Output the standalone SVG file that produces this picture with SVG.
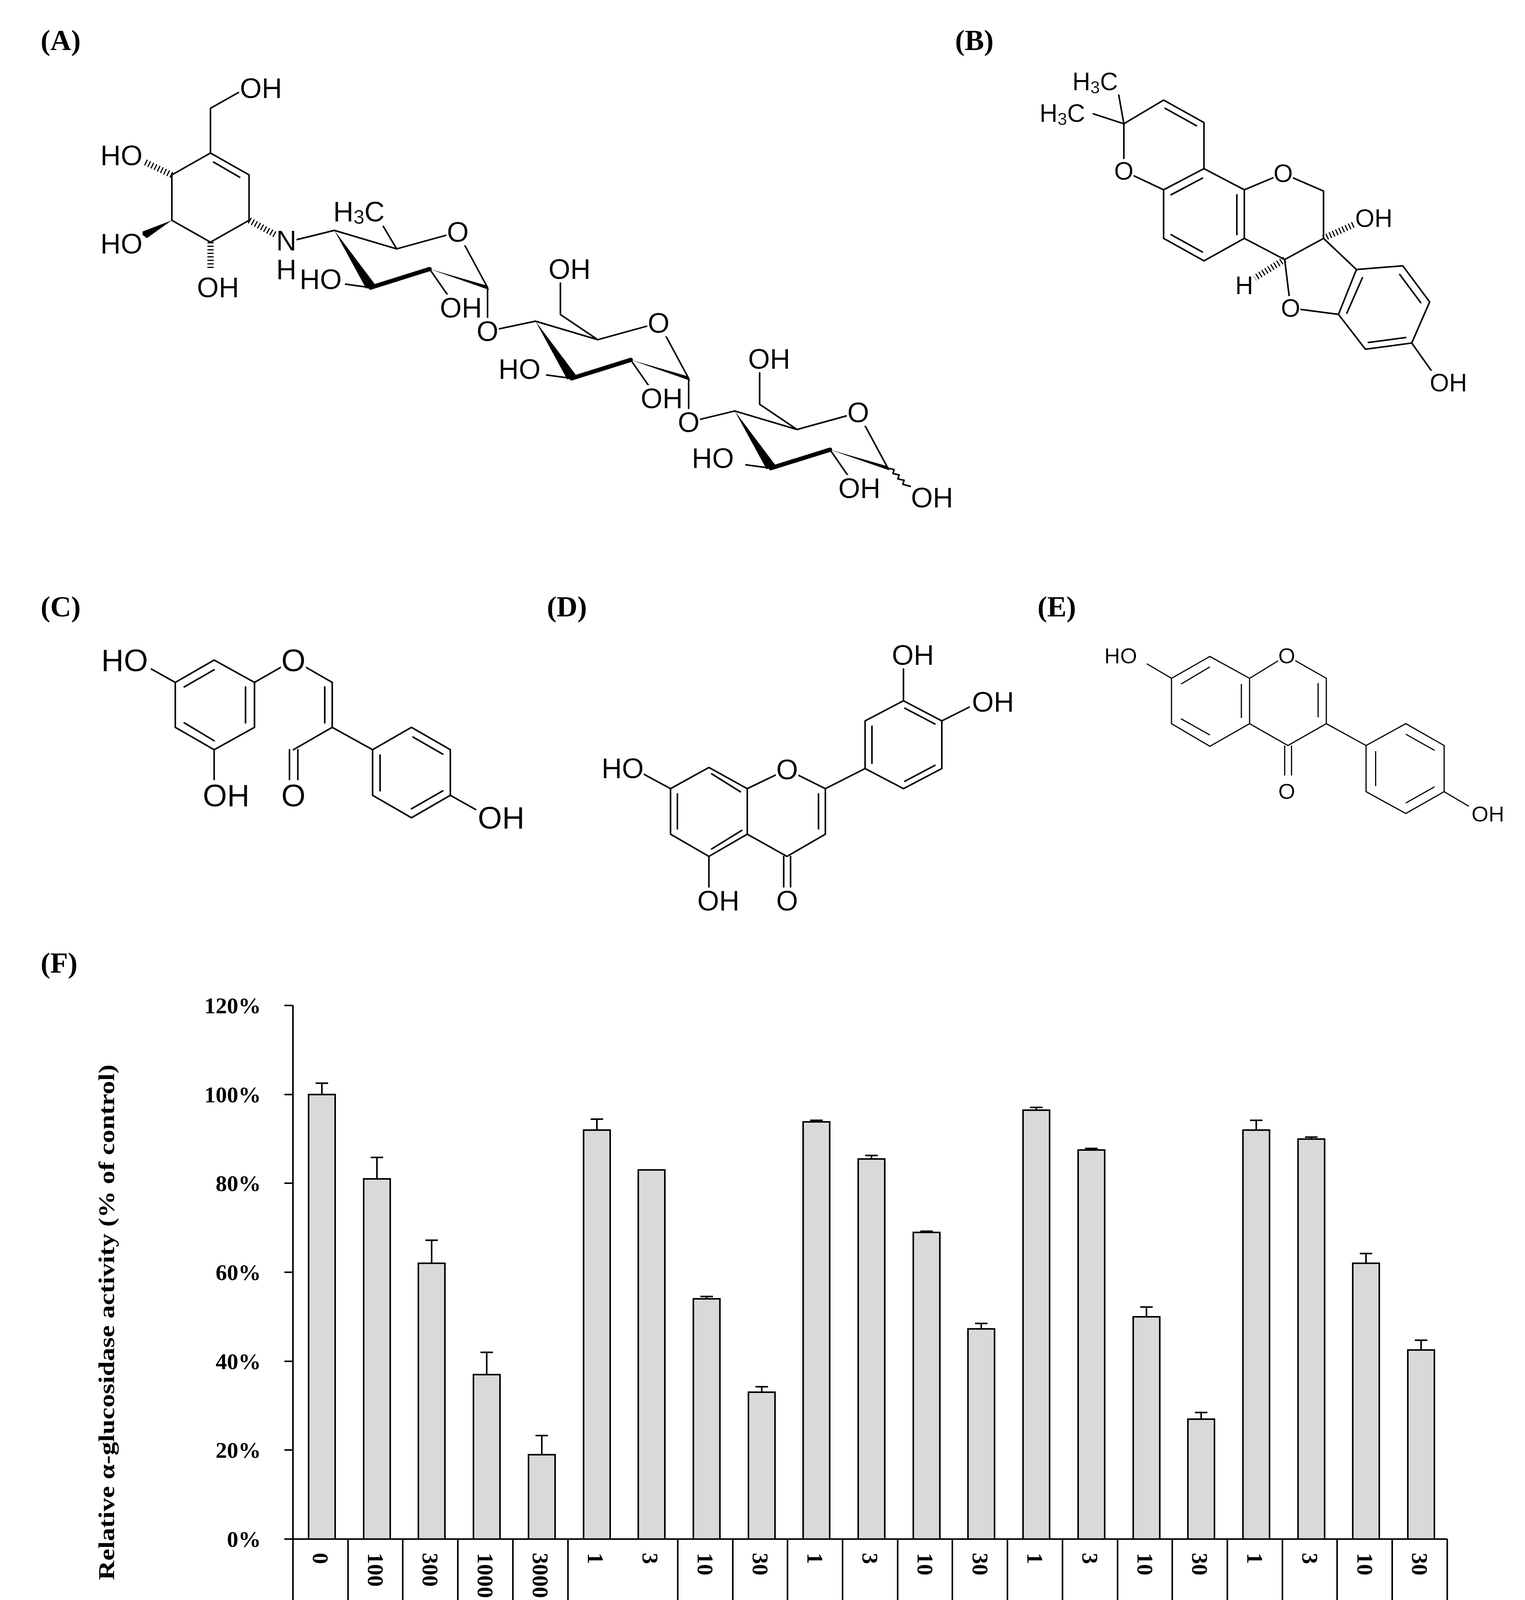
<svg xmlns="http://www.w3.org/2000/svg" width="3904" height="4406" viewBox="0 0 3904 4406">
<style>
.b{stroke:#000;stroke-width:4;fill:none;vector-effect:non-scaling-stroke;stroke-linecap:round;stroke-linejoin:round}
.e{stroke:#000;stroke-width:3;fill:none;vector-effect:non-scaling-stroke}
.hash{stroke:#000;stroke-width:16;stroke-dasharray:3 6;fill:none}
.w{fill:#000;stroke:none}
.t{font-family:"Liberation Sans",Arial,sans-serif;fill:#000;text-anchor:middle;dominant-baseline:central;filter:url(#bg)}
.ts{text-anchor:start}
.pl{font-family:"Liberation Serif","Times New Roman",serif;font-weight:bold;font-size:74px;fill:#000}
.ax{font-family:"Liberation Serif","Times New Roman",serif;font-weight:bold;font-size:58px;fill:#000}
.bar{fill:#d9d9d9;stroke:#000;stroke-width:4}
.ln{stroke:#000;stroke-width:4;fill:none}
</style>
<defs>
<filter id="bg" x="0" y="0.08" width="1" height="0.84"><feFlood flood-color="#fff"/><feComposite in="SourceGraphic" operator="over"/></filter>
<g id="sugar">
<polygon class="w" points="537,685 588,858 604,850"/>
<line class="b" x1="595" y1="855" x2="690" y2="800" style="stroke-width:11"/>
<polygon class="w" points="690,800 780,848 786,862"/>
<polyline class="b" points="537,685 637,740 735,690 783,855"/>
<line class="b" x1="690" y1="800" x2="720" y2="880"/>
<line class="b" x1="595" y1="855" x2="555" y2="845"/>
</g>
</defs>
<rect width="3904" height="4406" fill="#fff"/>

<g id="labels">
<text class="pl" x="104" y="128">(A)</text>
<text class="pl" x="2445" y="128">(B)</text>
<text class="pl" x="104" y="1578">(C)</text>
<text class="pl" x="1400" y="1578">(D)</text>
<text class="pl" x="2656" y="1578">(E)</text>
<text class="pl" x="104" y="2490">(F)</text>
</g>

<g id="struct-A">
<g transform="scale(1.594,0.861)">
<polyline class="b" points="383,275 338,322 338,455"/>
<polygon class="b" points="338,455 400,520 400,655 338,720 276,655 276,520"/>
<line class="b" x1="343" y1="482" x2="385" y2="527"/>
<polygon class="w" points="276,655 224,692 236,708"/>
<line class="b" x1="460" y1="720" x2="537" y2="685"/>
<line class="b" x1="637" y1="740" x2="605" y2="640"/>
<line class="b" x1="783" y1="855" x2="783" y2="985"/>
<use href="#sugar"/>
<line class="b" x1="783" y1="985" x2="860" y2="955"/>
<polyline class="b" points="960,1010 900,935 900,830"/>
<line class="b" x1="1106" y1="1125" x2="1106" y2="1255"/>
<use href="#sugar" transform="translate(323,270)"/>
<line class="b" x1="1106" y1="1255" x2="1180" y2="1222"/>
<polyline class="b" points="1280,1277 1220,1202 1220,1100"/>
<use href="#sugar" transform="translate(643,537)"/>
<polyline class="b" points="1426,1392 1436,1396 1434,1408 1444,1412 1442,1424 1452,1428 1450,1440 1462,1446"/>
</g>
<line class="hash" x1="440" y1="448" x2="367" y2="413"/>
<line class="hash" x1="539" y1="620" x2="539" y2="689"/>
<line class="hash" x1="638" y1="564" x2="709" y2="603"/>
<g font-size="72">
<text class="t ts" x="614" y="226">OH</text>
<text class="t" x="311" y="398">HO</text>
<text class="t" x="311" y="624">HO</text>
<text class="t" x="558" y="736">OH</text>
<text class="t" x="733" y="616">N</text>
<text class="t" x="733" y="690">H</text>
<text class="t ts" x="853" y="542">H<tspan font-size="50" dy="14">3</tspan><tspan dy="-14">C</tspan></text>
<text class="t" x="1172" y="594">O</text>
<text class="t" x="821" y="715">HO</text>
<text class="t" x="1180" y="788">OH</text>
<text class="t" x="1248" y="848">O</text>
<text class="t" x="1458" y="689">OH</text>
<text class="t" x="1686" y="827">O</text>
<text class="t" x="1330" y="945">HO</text>
<text class="t" x="1694" y="1020">OH</text>
<text class="t" x="1763" y="1081">O</text>
<text class="t" x="1969" y="919">OH</text>
<text class="t" x="2197" y="1056">O</text>
<text class="t" x="1825" y="1173">HO</text>
<text class="t" x="2200" y="1250">OH</text>
<text class="t" x="2386" y="1274">OH</text>
</g>
</g>

<g id="struct-B">
<g transform="translate(2600,100) scale(0.7653,0.6378)">
<line class="b" x1="362" y1="340" x2="345" y2="225"/>
<line class="b" x1="362" y1="340" x2="260" y2="300"/>
<polyline class="b" points="362,530 362,340 495,245 630,335 630,520"/>
<line class="b" x1="500" y1="278" x2="605" y2="348"/>
<polygon class="b" points="495,605 630,520 765,605 765,800 630,890 495,800"/>
<line class="b" x1="362" y1="530" x2="495" y2="605"/>
<line class="b" x1="520" y1="625" x2="625" y2="558"/>
<line class="b" x1="740" y1="625" x2="740" y2="785"/>
<line class="b" x1="520" y1="785" x2="625" y2="855"/>
<polyline class="b" points="765,605 895,540 1030,610 1030,800 900,885 765,800"/>
<polyline class="b" points="900,885 920,1080 1080,1105"/>
<line class="b" x1="1030" y1="800" x2="1140" y2="925"/>
<polygon class="b" points="1140,925 1295,910 1385,1055 1325,1220 1170,1245 1080,1105"/>
<line class="b" x1="1160" y1="958" x2="1108" y2="1100"/>
<line class="b" x1="1285" y1="945" x2="1355" y2="1058"/>
<line class="b" x1="1305" y1="1198" x2="1180" y2="1218"/>
<line class="b" x1="1325" y1="1220" x2="1390" y2="1330"/>
</g>
<line class="hash" x1="3388" y1="610" x2="3465" y2="575"/>
<line class="hash" x1="3289" y1="664" x2="3212" y2="712"/>
<g font-size="64">
<text class="t ts" x="2745" y="209">H<tspan font-size="44" dy="14">3</tspan><tspan dy="-14">C</tspan></text>
<text class="t ts" x="2661" y="290">H<tspan font-size="44" dy="14">3</tspan><tspan dy="-14">C</tspan></text>
<text class="t" x="2877" y="438">O</text>
<text class="t" x="3285" y="444">O</text>
<text class="t ts" x="3469" y="559">OH</text>
<text class="t" x="3185" y="731">H</text>
<text class="t" x="3304" y="789">O</text>
<text class="t ts" x="3660" y="980">OH</text>
</g>
</g>

<g id="struct-C">
<g transform="translate(200,1550) scale(0.7653,0.3827)">
<polygon class="b" points="325,515 455,365 590,515 590,815 455,965 325,815"/>
<line class="b" x1="355" y1="545" x2="455" y2="430"/>
<line class="b" x1="355" y1="785" x2="455" y2="905"/>
<line class="b" x1="560" y1="545" x2="560" y2="785"/>
<line class="b" x1="325" y1="515" x2="245" y2="425"/>
<polyline class="b" points="590,515 720,365 850,515 850,815 720,965"/>
<line class="b" x1="825" y1="545" x2="825" y2="785"/>
<line class="b" x1="707" y1="965" x2="707" y2="1165"/>
<line class="b" x1="735" y1="965" x2="735" y2="1165"/>
<line class="b" x1="455" y1="965" x2="455" y2="1165"/>
<line class="b" x1="850" y1="815" x2="985" y2="965"/>
<polygon class="b" points="985,965 1115,815 1245,965 1245,1270 1115,1420 985,1270"/>
<line class="b" x1="1120" y1="880" x2="1220" y2="995"/>
<line class="b" x1="1010" y1="1000" x2="1010" y2="1240"/>
<line class="b" x1="1220" y1="1240" x2="1115" y2="1360"/>
<line class="b" x1="1245" y1="1270" x2="1330" y2="1365"/>
</g>
<g font-size="80">
<text class="t" x="319" y="1690">HO</text>
<text class="t" x="751" y="1690">O</text>
<text class="t" x="579" y="2036">OH</text>
<text class="t" x="751" y="2036">O</text>
<text class="t" x="1283" y="2093">OH</text>
</g>
</g>

<g id="struct-D">
<g transform="translate(1450,1550) scale(0.7015,0.5421)">
<polygon class="b" points="380,865 520,765 660,865 660,1080 520,1185 380,1080"/>
<line class="b" x1="405" y1="890" x2="405" y2="1055"/>
<line class="b" x1="530" y1="795" x2="635" y2="880"/>
<line class="b" x1="530" y1="1150" x2="640" y2="1062"/>
<line class="b" x1="380" y1="865" x2="280" y2="795"/>
<polyline class="b" points="660,865 805,775 945,865 945,1080 805,1185 660,1080"/>
<line class="b" x1="920" y1="890" x2="920" y2="1055"/>
<line class="b" x1="793" y1="1185" x2="793" y2="1345"/>
<line class="b" x1="818" y1="1185" x2="818" y2="1345"/>
<line class="b" x1="520" y1="1185" x2="520" y2="1340"/>
<line class="b" x1="945" y1="865" x2="1090" y2="770"/>
<polygon class="b" points="1090,770 1090,545 1230,450 1370,545 1370,770 1230,865"/>
<line class="b" x1="1115" y1="570" x2="1115" y2="745"/>
<line class="b" x1="1235" y1="485" x2="1345" y2="560"/>
<line class="b" x1="1345" y1="755" x2="1235" y2="830"/>
<line class="b" x1="1230" y1="450" x2="1230" y2="290"/>
<line class="b" x1="1370" y1="545" x2="1470" y2="480"/>
</g>
<g font-size="72">
<text class="t" x="1594" y="1967">HO</text>
<text class="t" x="2015" y="1970">O</text>
<text class="t" x="1839" y="2306">OH</text>
<text class="t" x="2015" y="2306">O</text>
<text class="t" x="2337" y="1677">OH</text>
<text class="t ts" x="2488" y="1797">OH</text>
</g>
</g>

<g id="struct-E">
<g transform="translate(2750,1550) scale(0.7015,0.4145)">
<polygon class="e" points="355,450 495,315 640,450 640,730 495,870 355,730"/>
<line class="e" x1="390" y1="485" x2="495" y2="380"/>
<line class="e" x1="390" y1="700" x2="495" y2="800"/>
<line class="e" x1="610" y1="485" x2="610" y2="695"/>
<line class="e" x1="355" y1="450" x2="265" y2="360"/>
<polyline class="e" points="640,450 775,310 920,450 920,730 780,865 640,730"/>
<line class="e" x1="890" y1="480" x2="890" y2="690"/>
<line class="e" x1="768" y1="865" x2="768" y2="1050"/>
<line class="e" x1="793" y1="865" x2="793" y2="1050"/>
<line class="e" x1="920" y1="730" x2="1065" y2="865"/>
<polygon class="e" points="1065,865 1210,730 1350,865 1350,1150 1210,1285 1065,1150"/>
<line class="e" x1="1210" y1="795" x2="1315" y2="895"/>
<line class="e" x1="1100" y1="900" x2="1100" y2="1115"/>
<line class="e" x1="1315" y1="1120" x2="1210" y2="1220"/>
<line class="e" x1="1350" y1="1150" x2="1440" y2="1240"/>
</g>
<g font-size="56">
<text class="t" x="2869" y="1678">HO</text>
<text class="t" x="3294" y="1678">O</text>
<text class="t" x="3294" y="2025">O</text>
<text class="t ts" x="3767" y="2083">OH</text>
</g>
</g>

<g id="chart-F">
<g id="bars">
<rect class="bar" x="790" y="2802" width="68" height="1138"/>
<rect class="bar" x="931" y="3018" width="68" height="922"/>
<rect class="bar" x="1071" y="3234" width="68" height="706"/>
<rect class="bar" x="1212" y="3519" width="68" height="421"/>
<rect class="bar" x="1353" y="3724" width="68" height="216"/>
<rect class="bar" x="1494" y="2893" width="68" height="1047"/>
<rect class="bar" x="1634" y="2995" width="68" height="945"/>
<rect class="bar" x="1775" y="3325" width="68" height="615"/>
<rect class="bar" x="1916" y="3564" width="68" height="376"/>
<rect class="bar" x="2056" y="2872" width="68" height="1068"/>
<rect class="bar" x="2197" y="2967" width="68" height="973"/>
<rect class="bar" x="2338" y="3155" width="68" height="785"/>
<rect class="bar" x="2478" y="3402" width="68" height="538"/>
<rect class="bar" x="2619" y="2842" width="68" height="1098"/>
<rect class="bar" x="2760" y="2944" width="68" height="996"/>
<rect class="bar" x="2901" y="3371" width="68" height="569"/>
<rect class="bar" x="3041" y="3633" width="68" height="307"/>
<rect class="bar" x="3182" y="2893" width="68" height="1047"/>
<rect class="bar" x="3323" y="2916" width="68" height="1024"/>
<rect class="bar" x="3463" y="3234" width="68" height="706"/>
<rect class="bar" x="3604" y="3456" width="68" height="484"/>
</g>
<g id="errorbars" class="ln">
<path d="M824 2802V2773M808 2773H840"/>
<path d="M965 3018V2963M949 2963H981"/>
<path d="M1105 3234V3175M1089 3175H1121"/>
<path d="M1246 3519V3462M1230 3462H1262"/>
<path d="M1387 3724V3675M1371 3675H1403"/>
<path d="M1528 2893V2865M1512 2865H1544"/>
<path d="M1809 3325V3319M1793 3319H1825"/>
<path d="M1950 3564V3550M1934 3550H1966"/>
<path d="M2090 2872V2868M2074 2868H2106"/>
<path d="M2231 2967V2958M2215 2958H2247"/>
<path d="M2372 3155V3152M2356 3152H2388"/>
<path d="M2512 3402V3388M2496 3388H2528"/>
<path d="M2653 2842V2835M2637 2835H2669"/>
<path d="M2794 2944V2940M2778 2940H2810"/>
<path d="M2935 3371V3346M2919 3346H2951"/>
<path d="M3075 3633V3616M3059 3616H3091"/>
<path d="M3216 2893V2868M3200 2868H3232"/>
<path d="M3357 2916V2911M3341 2911H3373"/>
<path d="M3497 3234V3209M3481 3209H3513"/>
<path d="M3638 3456V3431M3622 3431H3654"/>
</g>
<g id="axes" class="ln">
<path d="M750 2574V3940H3705"/>
<path d="M728 2574H750M728 2802H750M728 3029H750M728 3257H750M728 3485H750M728 3712H750M728 3940H750"/>
<path d="M891 3940V4123M1031 3940V4123M1172 3940V4123M1313 3940V4123M1735 3940V4123M1876 3940V4123M2157 3940V4123M2298 3940V4123M2438 3940V4123M2720 3940V4123M2861 3940V4123M3001 3940V4123M3283 3940V4123M3423 3940V4123M3564 3940V4123"/>
<path d="M750 3940V4330M1454 3940V4330M2016 3940V4330M2579 3940V4330M3142 3940V4330M3705 3940V4330"/>
</g>
<g class="ax" text-anchor="end">
<text x="668" y="3960">0%</text>
<text x="668" y="3732">20%</text>
<text x="668" y="3505">40%</text>
<text x="668" y="3277">60%</text>
<text x="668" y="3049">80%</text>
<text x="668" y="2822">100%</text>
<text x="668" y="2594">120%</text>
</g>
<text class="ax" text-anchor="middle" transform="translate(292,3385) rotate(-90)" textLength="1320" lengthAdjust="spacingAndGlyphs">Relative α-glucosidase activity (% of control)</text>
<g class="ax">
<text transform="translate(801,3975) rotate(90)">0</text>
<text transform="translate(942,3975) rotate(90)">100</text>
<text transform="translate(1082,3975) rotate(90)">300</text>
<text transform="translate(1223,3975) rotate(90)">1000</text>
<text transform="translate(1364,3975) rotate(90)">3000</text>
<text transform="translate(1505,3975) rotate(90)">1</text>
<text transform="translate(1645,3975) rotate(90)">3</text>
<text transform="translate(1786,3975) rotate(90)">10</text>
<text transform="translate(1927,3975) rotate(90)">30</text>
<text transform="translate(2067,3975) rotate(90)">1</text>
<text transform="translate(2208,3975) rotate(90)">3</text>
<text transform="translate(2349,3975) rotate(90)">10</text>
<text transform="translate(2490,3975) rotate(90)">30</text>
<text transform="translate(2630,3975) rotate(90)">1</text>
<text transform="translate(2771,3975) rotate(90)">3</text>
<text transform="translate(2912,3975) rotate(90)">10</text>
<text transform="translate(3052,3975) rotate(90)">30</text>
<text transform="translate(3193,3975) rotate(90)">1</text>
<text transform="translate(3334,3975) rotate(90)">3</text>
<text transform="translate(3475,3975) rotate(90)">10</text>
<text transform="translate(3615,3975) rotate(90)">30</text>
</g>
<g class="ax" text-anchor="middle">
<text x="1102" y="4232">Acarbose</text><text x="1102" y="4313">(μM)</text>
<text x="1735" y="4232">Glyceollin</text><text x="1735" y="4313">(μM)</text>
<text x="2298" y="4232">Genistein</text><text x="2298" y="4313">(μM)</text>
<text x="2860" y="4232">Luteollin</text><text x="2860" y="4313">(μM)</text>
<text x="3423" y="4232">Daidzein</text><text x="3423" y="4313">(μM)</text>
</g>
</g>
<g id="connectors"/>
</svg>
